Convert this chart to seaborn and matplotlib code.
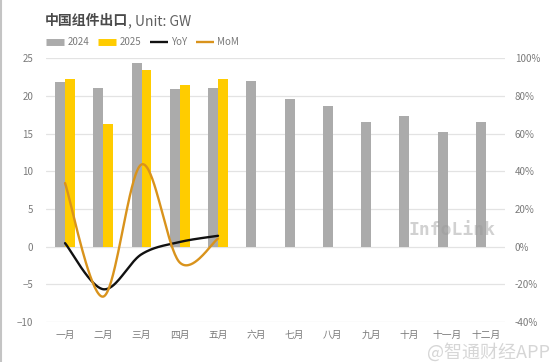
import numpy as np
import pandas as pd
import matplotlib.pyplot as plt
from matplotlib.lines import Line2D
import seaborn as sns

# data
months = ['一月', '二月', '三月', '四月', '五月', '六月',
          '七月', '八月', '九月', '十月', '十一月', '十二月']
exports_2024 = [21.8, 21.1, 24.4, 20.9, 21.1, 22.0, 19.6, 18.7, 16.5, 17.3, 15.2, 16.6]
exports_2025 = [22.2, 16.3, 23.4, 21.4, 22.3]
yoy_pct = [1.8, -22.7, -4.1, 2.4, 5.7]
mom_pct = [33.7, -26.6, 43.6, -8.5, 4.2]

GRAY = '#ababab'
GOLD = '#ffcc00'
BLACK = '#111111'
ORANGE = '#d9931c'
TXT = '#7a7a7a'


def smooth_line(x, y, n=40):
    """
    Excel style smoothed line (catmull-rom through the points).
    """
    x = np.asarray(x, float)
    y = np.asarray(y, float)
    px = np.concatenate([[x[0]], x, [x[-1]]])
    py = np.concatenate([[y[0]], y, [y[-1]]])
    xs, ys = [], []
    for i in range(1, len(px) - 2):
        t = np.linspace(0, 1, n)
        p0, p1, p2, p3 = py[i - 1], py[i], py[i + 1], py[i + 2]
        q0, q1, q2, q3 = px[i - 1], px[i], px[i + 1], px[i + 2]
        # bezier control points
        c1y, c2y = p1 + (p2 - p0) / 6, p2 - (p3 - p1) / 6
        c1x, c2x = q1 + (q2 - q0) / 6, q2 - (q3 - q1) / 6
        b = lambda a, b1, b2, c: ((1 - t) ** 3 * a + 3 * (1 - t) ** 2 * t * b1
                                  + 3 * (1 - t) * t ** 2 * b2 + t ** 3 * c)
        xs.append(b(q1, c1x, c2x, q2))
        ys.append(b(p1, c1y, c2y, p2))
    return np.concatenate(xs), np.concatenate(ys)


sns.set_theme(style='white')
plt.rcParams['font.family'] = ['Noto Sans CJK SC', 'DejaVu Sans']

# long dataframe for the bars
df = pd.DataFrame({
    'month': months * 2,
    'year': ['2024'] * 12 + ['2025'] * 12,
    'value': exports_2024 + exports_2025 + [np.nan] * (12 - len(exports_2025)),
})

fig, ax = plt.subplots(figsize=(5.53, 3.62), dpi=100)
fig.subplots_adjust(left=0.083, right=0.913, top=0.839, bottom=0.111)

sns.barplot(data=df, x='month', y='value', hue='year', order=months,
            palette={'2024': GRAY, '2025': GOLD}, width=0.52, gap=0,
            saturation=1, linewidth=0, legend=False, ax=ax, zorder=2)

ax.set_ylim(-10, 25)
ax.set_yticks(range(-10, 26, 5))
ax.set_xlim(-0.5, 11.5)
ax.set_xlabel('')
ax.set_ylabel('')
ax.grid(axis='y', color='#e3e3e3', lw=0.9, zorder=0)
ax.set_axisbelow(True)
ax.tick_params(axis='both', length=0, labelsize=7, labelcolor=TXT)
ax.tick_params(axis='y', pad=9)
ax.tick_params(axis='x', pad=6)
for s in ax.spines.values():
    s.set_visible(False)

# percentage lines on the right axis
ax2 = ax.twinx()
ax2.set_ylim(-40, 100)
ax2.set_yticks(range(-40, 101, 20))
ax2.set_yticklabels([f'{v}%' for v in range(-40, 101, 20)])
ax2.tick_params(axis='y', length=0, labelsize=7, labelcolor=TXT, pad=7)
for s in ax2.spines.values():
    s.set_visible(False)

xs, ys = smooth_line(range(len(yoy_pct)), yoy_pct)
ax2.plot(xs, ys, color=BLACK, lw=1.7, zorder=3)
xs, ys = smooth_line(range(len(mom_pct)), mom_pct)
ax2.plot(xs, ys, color=ORANGE, lw=1.7, zorder=3)

# title: bold chinese part + regular unit part
t1 = fig.text(0.081, 0.942, '中国组件出口', fontsize=10, fontweight='bold',
              color='#4a4a4a', va='center', ha='left')
fig.canvas.draw()
bb = t1.get_window_extent().transformed(fig.transFigure.inverted())
fig.text(bb.x1, 0.942, ', Unit: GW', fontsize=10, color='#606060',
         va='center', ha='left')

handles = [Line2D([], [], color=GRAY, lw=5, solid_capstyle='butt'),
           Line2D([], [], color=GOLD, lw=5, solid_capstyle='butt'),
           Line2D([], [], color=BLACK, lw=1.7, solid_capstyle='butt'),
           Line2D([], [], color=ORANGE, lw=1.7, solid_capstyle='butt')]
fig.legend(handles, ['2024', '2025', 'YoY', 'MoM'], loc='center left',
           bbox_to_anchor=(0.083, 0.884), ncol=4, frameon=False, fontsize=7,
           labelcolor=TXT, handlelength=1.9, handletextpad=0.3,
           columnspacing=0.9, borderaxespad=0, borderpad=0)

# watermarks
ax.text(0.885, 0.35, 'InfoLink', transform=ax.transAxes, fontsize=13,
        family='DejaVu Sans Mono', fontweight='bold', color='#9a9a9a',
        alpha=0.45, ha='center', va='center', zorder=4)
fig.text(0.995, 0.028, '@智通财经APP', fontsize=13, color='#d6d6d6',
         ha='right', va='center')
fig.add_artist(Line2D([0.002, 0.002], [0, 1], color='#c4c4c4', lw=1.5))

plt.savefig('out.png', dpi=100)
